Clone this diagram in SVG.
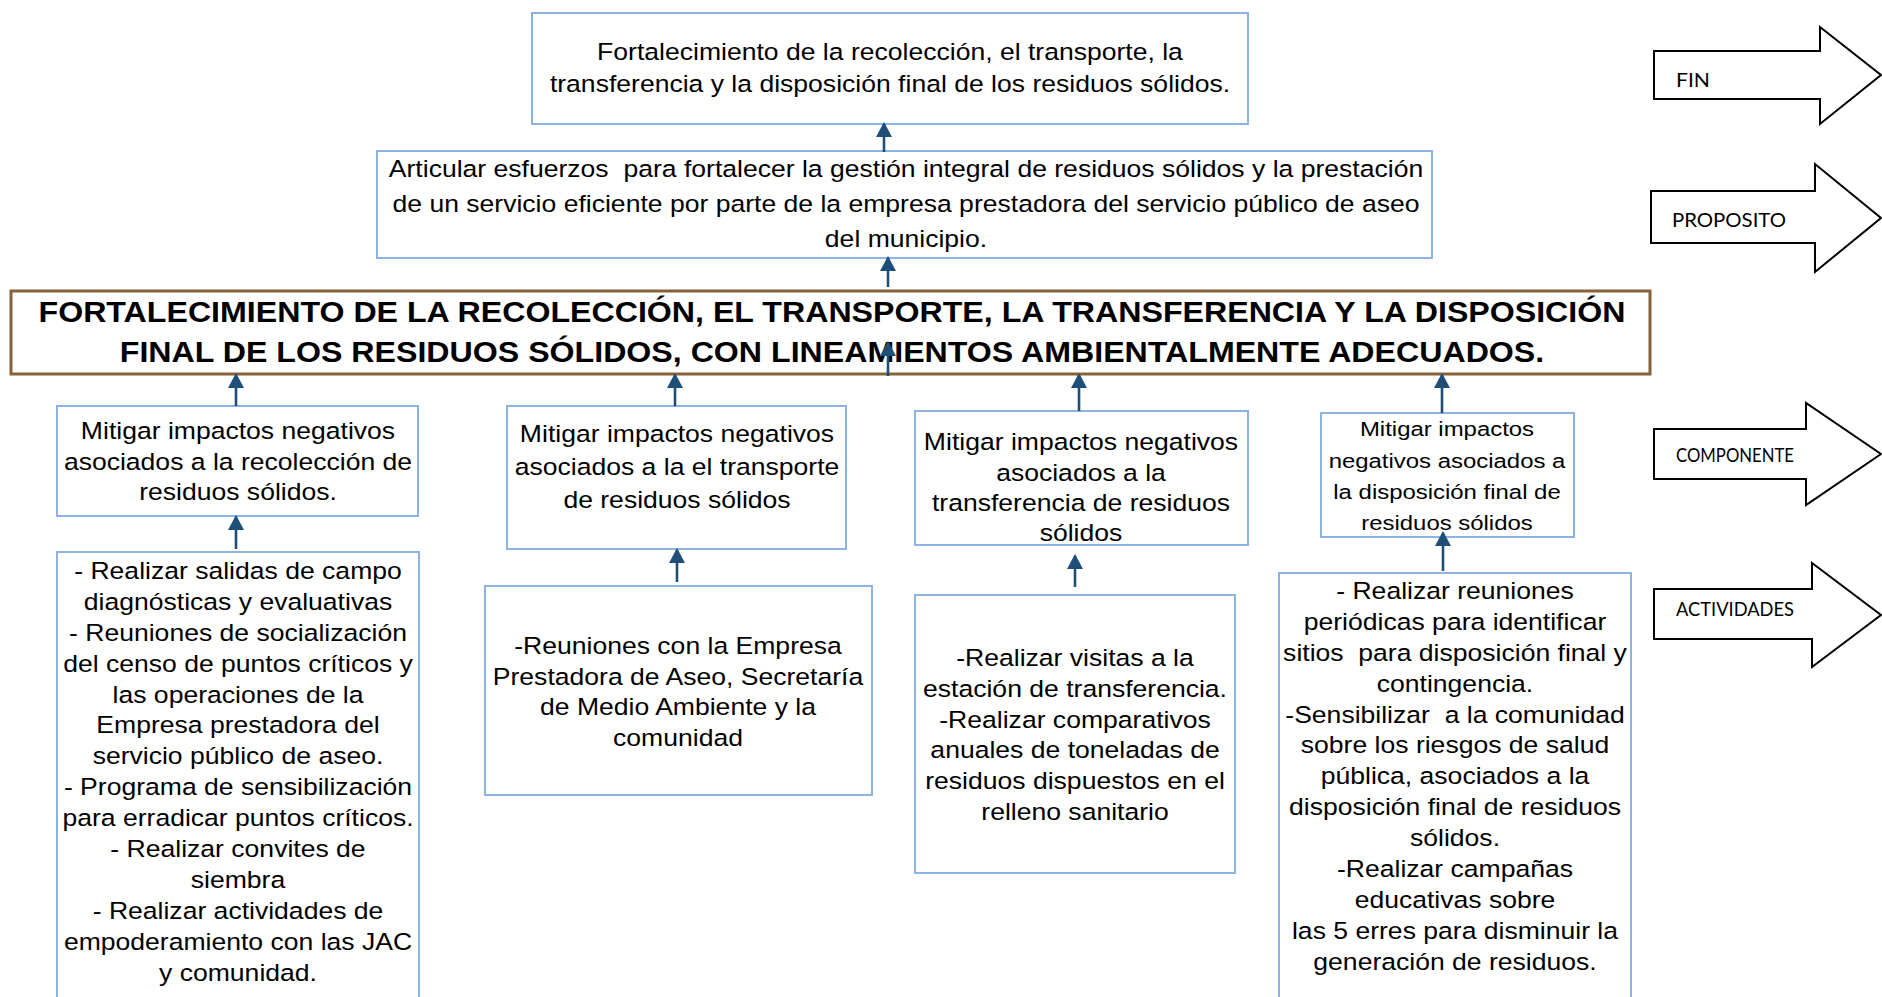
<svg xmlns="http://www.w3.org/2000/svg" width="1882" height="997" viewBox="0 0 1882 997">
<style>
.box{fill:#fff;stroke:#8DB3E2;stroke-width:2}
.main{fill:#fff;stroke:#876238;stroke-width:3}
.t{font-family:"Liberation Sans",Arial,sans-serif;font-size:23.3px;text-anchor:middle;fill:#000}
.ts{font-family:"Liberation Sans",Arial,sans-serif;font-size:21px;text-anchor:middle;fill:#000}
.tb{font-family:"Liberation Sans",Arial,sans-serif;font-size:29.5px;font-weight:bold;text-anchor:middle;fill:#000}
.conn{stroke:#1F4E79;stroke-width:2.6;fill:none;marker-end:url(#ah)}
.blk{fill:#fff;stroke:#000;stroke-width:2}
.lbl{font-family:Lato,"Open Sans",sans-serif;font-size:20px;fill:#000}
</style>
<defs>
<marker id="ah" viewBox="0 0 15 16" refX="13" refY="8" markerWidth="15" markerHeight="16" markerUnits="userSpaceOnUse" orient="auto">
<path d="M0,0 L15,8 L0,16 Z" fill="#1F4E79"/>
</marker>
</defs>
<rect width="1882" height="997" fill="#fff"/>

<g id="fin-box">
<rect class="box" x="532" y="13" width="716" height="111"/>
<text class="t" transform="matrix(1.14 0 0 1 890 0)"><tspan x="0" y="60">Fortalecimiento de la recolección, el transporte, la</tspan><tspan x="0" y="92.5">transferencia y la disposición final de los residuos sólidos.</tspan></text>
</g>

<g id="proposito-box">
<rect class="box" x="377" y="151" width="1055" height="107"/>
<text class="t" transform="matrix(1.14 0 0 1 906 0)"><tspan x="0" y="177">Articular esfuerzos&#160; para fortalecer la gestión integral de residuos sólidos y la prestación</tspan><tspan x="0" y="212">de un servicio eficiente por parte de la empresa prestadora del servicio público de aseo</tspan><tspan x="0" y="247">del municipio.</tspan></text>
</g>

<g id="main-box">
<rect class="main" x="11" y="291" width="1639" height="83"/>
<text class="tb" transform="matrix(1.09 0 0 1 832 0)"><tspan x="0" y="322">FORTALECIMIENTO DE LA RECOLECCIÓN, EL TRANSPORTE, LA TRANSFERENCIA Y LA DISPOSICIÓN</tspan><tspan x="0" y="362">FINAL DE LOS RESIDUOS SÓLIDOS, CON LINEAMIENTOS AMBIENTALMENTE ADECUADOS.</tspan></text>
</g>

<g id="comp1">
<rect class="box" x="57" y="406" width="361" height="110"/>
<text class="t" transform="matrix(1.14 0 0 1 238 0)"><tspan x="0" y="439">Mitigar impactos negativos</tspan><tspan x="0" y="470">asociados a la recolección de</tspan><tspan x="0" y="500">residuos sólidos.</tspan></text>
</g>

<g id="comp2">
<rect class="box" x="507" y="406" width="339" height="143"/>
<text class="t" transform="matrix(1.14 0 0 1 677 0)"><tspan x="0" y="442">Mitigar impactos negativos</tspan><tspan x="0" y="475">asociados a la el transporte</tspan><tspan x="0" y="508">de residuos sólidos</tspan></text>
</g>

<g id="comp3">
<rect class="box" x="915" y="411" width="333" height="134"/>
<text class="t" transform="matrix(1.14 0 0 1 1081 0)"><tspan x="0" y="450">Mitigar impactos negativos</tspan><tspan x="0" y="481">asociados a la</tspan><tspan x="0" y="511">transferencia de residuos</tspan><tspan x="0" y="541">sólidos</tspan></text>
</g>

<g id="comp4">
<rect class="box" x="1321" y="413" width="253" height="124"/>
<text class="ts" transform="matrix(1.14 0 0 1 1447 0)"><tspan x="0" y="436">Mitigar impactos</tspan><tspan x="0" y="468">negativos asociados a</tspan><tspan x="0" y="499.5">la disposición final de</tspan><tspan x="0" y="530">residuos sólidos</tspan></text>
</g>

<g id="act1">
<rect class="box" x="57" y="552" width="362" height="460"/>
<text class="t" transform="matrix(1.14 0 0 1 238 0)"><tspan x="0" y="579">- Realizar salidas de campo</tspan><tspan x="0" y="609.9">diagnósticas y evaluativas</tspan><tspan x="0" y="640.8">- Reuniones de socialización</tspan><tspan x="0" y="671.7">del censo de puntos críticos y</tspan><tspan x="0" y="702.6">las operaciones de la</tspan><tspan x="0" y="733.5">Empresa prestadora del</tspan><tspan x="0" y="764.4">servicio público de aseo.</tspan><tspan x="0" y="795.3">- Programa de sensibilización</tspan><tspan x="0" y="826.2">para erradicar puntos críticos.</tspan><tspan x="0" y="857.1">- Realizar convites de</tspan><tspan x="0" y="888">siembra</tspan><tspan x="0" y="918.9">- Realizar actividades de</tspan><tspan x="0" y="949.8">empoderamiento con las JAC</tspan><tspan x="0" y="980.7">y comunidad.</tspan></text>
</g>

<g id="act2">
<rect class="box" x="485" y="586" width="387" height="209"/>
<text class="t" transform="matrix(1.14 0 0 1 678 0)"><tspan x="0" y="654">-Reuniones con la Empresa</tspan><tspan x="0" y="684.7">Prestadora de Aseo, Secretaría</tspan><tspan x="0" y="715.4">de Medio Ambiente y la</tspan><tspan x="0" y="746.1">comunidad</tspan></text>
</g>

<g id="act3">
<rect class="box" x="915" y="595" width="320" height="278"/>
<text class="t" transform="matrix(1.14 0 0 1 1075 0)"><tspan x="0" y="666">-Realizar visitas a la</tspan><tspan x="0" y="696.8">estación de transferencia.</tspan><tspan x="0" y="727.6">-Realizar comparativos</tspan><tspan x="0" y="758.4">anuales de toneladas de</tspan><tspan x="0" y="789.2">residuos dispuestos en el</tspan><tspan x="0" y="820">relleno sanitario</tspan></text>
</g>

<g id="act4">
<rect class="box" x="1279" y="573" width="352" height="440"/>
<text class="t" transform="matrix(1.14 0 0 1 1455 0)"><tspan x="0" y="599">- Realizar reuniones</tspan><tspan x="0" y="629.9">periódicas para identificar</tspan><tspan x="0" y="660.8">sitios&#160; para disposición final y</tspan><tspan x="0" y="691.7">contingencia.</tspan><tspan x="0" y="722.6">-Sensibilizar&#160; a la comunidad</tspan><tspan x="0" y="753.5">sobre los riesgos de salud</tspan><tspan x="0" y="784.4">pública, asociados a la</tspan><tspan x="0" y="815.3">disposición final de residuos</tspan><tspan x="0" y="846.2">sólidos.</tspan><tspan x="0" y="877.1">-Realizar campañas</tspan><tspan x="0" y="908">educativas sobre</tspan><tspan x="0" y="938.9">las 5 erres para disminuir la</tspan><tspan x="0" y="969.8">generación de residuos.</tspan></text>
</g>

<g id="connectors">
<line class="conn" x1="884" y1="152" x2="884" y2="124"/>
<line class="conn" x1="888" y1="287" x2="888" y2="258"/>
<line class="conn" x1="888" y1="376" x2="888" y2="343"/>
<line class="conn" x1="236" y1="406" x2="236" y2="375"/>
<line class="conn" x1="675" y1="406" x2="675" y2="375"/>
<line class="conn" x1="1079" y1="411" x2="1079" y2="375"/>
<line class="conn" x1="1442" y1="413" x2="1442" y2="375"/>
<line class="conn" x1="236" y1="549" x2="236" y2="517"/>
<line class="conn" x1="677" y1="582" x2="677" y2="550"/>
<line class="conn" x1="1075" y1="587" x2="1075" y2="556"/>
<line class="conn" x1="1443" y1="571" x2="1443" y2="533"/>
</g>

<g id="arrow-fin">
<polygon class="blk" points="1654,51 1820,51 1820,27 1881,75 1820,124 1820,99 1654,99"/>
<text class="lbl" x="1676" y="87" textLength="34" lengthAdjust="spacingAndGlyphs">FIN</text>
</g>
<g id="arrow-proposito">
<polygon class="blk" points="1651,191 1815,191 1815,164 1881,218 1815,272 1815,243 1651,243"/>
<text class="lbl" x="1672" y="226.5" textLength="114" lengthAdjust="spacingAndGlyphs">PROPOSITO</text>
</g>
<g id="arrow-componente">
<polygon class="blk" points="1654,429 1806,429 1806,403 1881,454 1806,505 1806,479 1654,479"/>
<text class="lbl" x="1676" y="461.5" textLength="118" lengthAdjust="spacingAndGlyphs">COMPONENTE</text>
</g>
<g id="arrow-actividades">
<polygon class="blk" points="1654,589 1812,589 1812,563 1881,615 1812,667 1812,639 1654,639"/>
<text class="lbl" x="1676" y="616" textLength="118" lengthAdjust="spacingAndGlyphs">ACTIVIDADES</text>
</g>
</svg>
